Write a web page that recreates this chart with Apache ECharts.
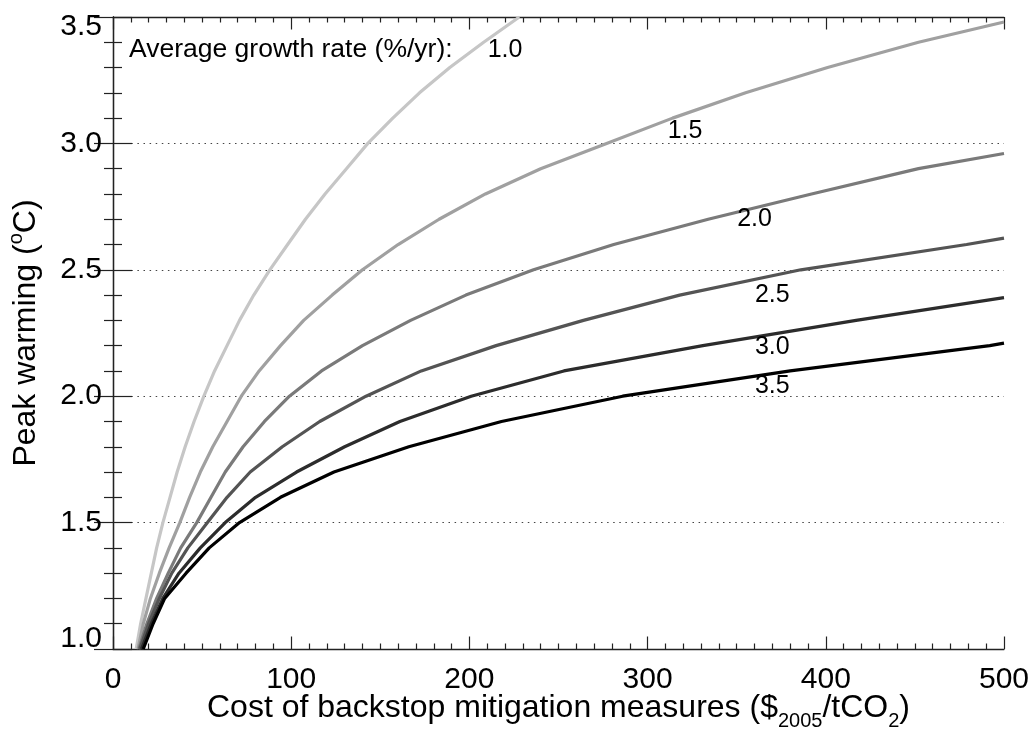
<!DOCTYPE html>
<html>
<head>
<meta charset="utf-8">
<script src="https://cdn.jsdelivr.net/npm/echarts@6/dist/echarts.min.js"></script>
<style>
html,body{margin:0;padding:0;background:#fff;}
#chart{width:1035px;height:731px;}
</style>
</head>
<body>
<div id="chart"></div>
<script>
// Growth rates (%/yr) labelling each curve
const growthRates = ['1.0', '1.5', '2.0', '2.5', '3.0', '3.5'];
// Each curve: [cost ($2005/tCO2), peak warming (°C)]
const rate10 = [[13,1.0],[15.5,1.1],[18.5,1.2],[21.5,1.3],[24.5,1.4],[28,1.5],[32,1.6],[36,1.7],[40.5,1.8],[45.5,1.9],[51,2.0],[57,2.1],[64,2.2],[71,2.3],[79,2.4],[88,2.5],[98,2.6],[108,2.7],[119,2.8],[131,2.9],[143,3.0],[157,3.1],[172,3.2],[189,3.3],[208,3.4],[228,3.5]];
const rate15 = [[14,1.0],[17,1.1],[21,1.2],[26,1.3],[31.5,1.4],[37.5,1.5],[43,1.6],[49,1.7],[56,1.8],[64,1.9],[72,2.0],[82,2.1],[94,2.2],[107,2.3],[123,2.4],[140,2.5],[160,2.6],[183,2.7],[209,2.8],[240,2.9],[277,3.0],[314,3.1],[355,3.2],[401,3.3],[452,3.4],[500,3.48]];
const rate20 = [[14.5,1.0],[19,1.1],[24.5,1.2],[31,1.3],[38,1.4],[47,1.5],[55,1.6],[63,1.7],[73,1.8],[85,1.9],[99,2.0],[117,2.1],[140,2.2],[167,2.3],[198,2.4],[236,2.5],[281,2.6],[334,2.7],[392,2.8],[452,2.9],[500,2.96]];
const rate25 = [[15,1.0],[20,1.1],[26,1.2],[33,1.3],[42,1.4],[53,1.5],[64,1.6],[77,1.7],[95,1.8],[116,1.9],[142,2.0],[173,2.1],[215,2.2],[264,2.3],[318,2.4],[386,2.5],[479,2.6],[500,2.625]];
const rate30 = [[16,1.0],[21.5,1.1],[28,1.2],[37,1.3],[49,1.4],[63,1.5],[80,1.6],[103,1.7],[130,1.8],[161,1.9],[201,2.0],[253,2.1],[331,2.2],[417,2.3],[500,2.39]];
const rate35 = [[17,1.0],[22.5,1.1],[29,1.2],[41,1.3],[54,1.4],[71,1.5],[94,1.6],[124,1.7],[166,1.8],[218,1.9],[286,2.0],[380,2.1],[492,2.2],[500,2.21]];
const xTickLabels = ['0', '100', '200', '300', '400', '500'];
const yTickLabels = ['1.0', '1.5', '2.0', '2.5', '3.0', '3.5'];
const headerText = 'Average growth rate (%/yr):';

// annotation anchors (data coordinates), separate from the data
const labelAnchors = [[220,3.37],[321,3.05],[360,2.70],[370,2.40],[370,2.195],[370,2.04]];
const headerAnchor = [9,3.37];

const curves = [rate10, rate15, rate20, rate25, rate30, rate35];
const colors = ['#c6c6c6', '#a0a0a0', '#7a7a7a', '#545454', '#2c2c2c', '#000000'];
const FONT = '"Liberation Sans", Arial, Helvetica, sans-serif';

const chart = echarts.init(document.getElementById('chart'), null, {renderer: 'canvas'});

const axisLineStyle = {color: '#222', width: 1.3};
const tickStyle = {color: '#222', width: 1.2};

const series = curves.map((d, i) => ({
  type: 'line',
  name: growthRates[i],
  data: d,
  xAxisIndex: 0, yAxisIndex: 0,
  showSymbol: false,
  symbol: 'none',
  smooth: false,
  clip: true,
  lineStyle: {color: colors[i], width: 3.2},
  z: 3 + i,
  silent: true,
  animation: false
}));

// text annotations via a symbol-less scatter series
series.push({
  type: 'scatter',
  xAxisIndex: 0, yAxisIndex: 0,
  symbolSize: 0,
  silent: true,
  animation: false,
  itemStyle: {opacity: 1},
  data: labelAnchors.map((p, i) => ({value: p, name: growthRates[i]})),
  label: {show: true, position: 'inside', formatter: p => p.name,
    color: '#000', fontSize: 25, fontFamily: FONT},
  z: 10
});
series.push({
  type: 'scatter',
  xAxisIndex: 0, yAxisIndex: 0,
  symbolSize: 0,
  silent: true,
  animation: false,
  itemStyle: {opacity: 1},
  data: [{value: headerAnchor, name: headerText}],
  label: {show: true, position: 'right', distance: 0, formatter: p => p.name,
    color: '#000', fontSize: 26.5, fontFamily: FONT},
  z: 10
});

const option = {
  backgroundColor: '#fff',
  animation: false,
  grid: {left: 113, right: 31, top: 17, bottom: 82, containLabel: false, outerBoundsMode: 'none'},
  xAxis: [{
    type: 'value', min: 0, max: 500, interval: 100, position: 'bottom',
    axisLine: {show: true, lineStyle: axisLineStyle},
    axisTick: {show: true, inside: true, length: 12.5, lineStyle: tickStyle},
    minorTick: {show: true, splitNumber: 10, length: 5.5, lineStyle: tickStyle},
    splitLine: {show: false},
    axisLabel: {show: true, margin: 16, fontSize: 30, color: '#000', fontFamily: FONT,
      formatter: v => xTickLabels[Math.round(v / 100)]},
    name: '{a|Cost of backstop mitigation measures ($}{sub|2005}{a|/tCO}{sub|2}{a|)}',
    nameLocation: 'middle', nameGap: 37, nameMoveOverlap: false,
    nameTextStyle: {
      color: '#000', fontFamily: FONT,
      rich: {
        a: {fontSize: 32, fontFamily: FONT, color: '#000', lineHeight: 45, verticalAlign: 'middle'},
        sub: {fontSize: 20, fontFamily: FONT, color: '#000', lineHeight: 45, verticalAlign: 'bottom'}
      }
    }
  }, {
    type: 'value', min: 0, max: 500, interval: 100, position: 'top',
    axisLine: {show: true, lineStyle: axisLineStyle},
    axisTick: {show: true, inside: true, length: 12.5, lineStyle: tickStyle},
    minorTick: {show: true, splitNumber: 10, length: 5.5, lineStyle: tickStyle},
    splitLine: {show: false},
    axisLabel: {show: false}
  }],
  yAxis: [{
    type: 'value', min: 1.0, max: 3.5, interval: 0.5, position: 'left',
    axisLine: {show: true, lineStyle: axisLineStyle},
    axisTick: {show: true, inside: true, length: 19, lineStyle: tickStyle},
    minorTick: {show: true, splitNumber: 5, length: 9, lineStyle: tickStyle},
    splitLine: {show: true, lineStyle: {color: '#444', width: 1.2, type: [1.5, 4.6]}},
    axisLabel: {show: true, margin: 11, fontSize: 30, color: '#000', fontFamily: FONT,
      verticalAlignMinLabel: 'bottom', verticalAlignMaxLabel: 'top',
      formatter: v => {
        const i = Math.round((v - 1.0) / 0.5);
        const t = yTickLabels[i];
        return (i === 0 || i === yTickLabels.length - 1) ? '{e|' + t + '}' : t;
      },
      rich: {e: {fontSize: 30, fontFamily: FONT, color: '#000', lineHeight: 20}}},
    name: '{a|Peak warming (}{sup|o}{a|C)}',
    nameLocation: 'middle', nameGap: 67, nameRotate: 90, nameMoveOverlap: false,
    nameTextStyle: {
      color: '#000', fontFamily: FONT,
      rich: {
        a: {fontSize: 32, fontFamily: FONT, color: '#000', lineHeight: 40, verticalAlign: 'middle'},
        sup: {fontSize: 20, fontFamily: FONT, color: '#000', lineHeight: 40, verticalAlign: 'top'}
      }
    }
  }, {
    type: 'value', min: 1.0, max: 3.5, interval: 0.5, position: 'right',
    axisLine: {show: true, lineStyle: axisLineStyle},
    axisTick: {show: true, inside: true, length: 19, lineStyle: tickStyle},
    minorTick: {show: true, splitNumber: 5, length: 9, lineStyle: tickStyle},
    splitLine: {show: false},
    axisLabel: {show: false}
  }],
  series: series
};
chart.setOption(option);
</script>
</body>
</html>
